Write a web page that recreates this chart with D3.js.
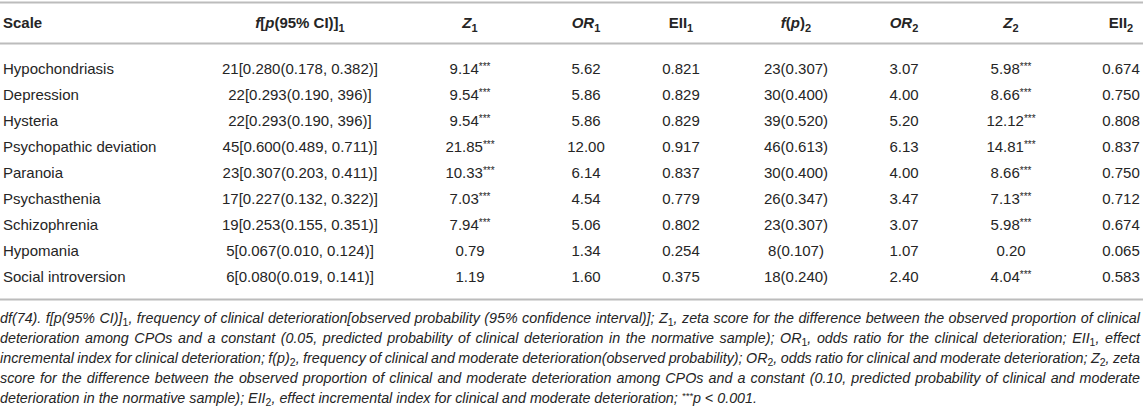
<!DOCTYPE html>
<html>
<head>
<meta charset="utf-8">
<script src="https://cdn.jsdelivr.net/npm/d3@7"></script>
<style>
  body { margin: 0; background: #fff; }
  svg { display: block; font-family: "Liberation Sans", Arial, sans-serif; }
</style>
</head>
<body>
<svg id="viz" width="1143" height="407"></svg>
<script>
// table values
const scales = ["Hypochondriasis", "Depression", "Hysteria", "Psychopathic deviation", "Paranoia",
    "Psychasthenia", "Schizophrenia", "Hypomania", "Social introversion"];
const f1 = [21, 22, 22, 45, 23, 17, 19, 5, 6];
const p1 = [0.280, 0.293, 0.293, 0.600, 0.307, 0.227, 0.253, 0.067, 0.080];
const ciLow = [0.178, 0.190, 0.190, 0.489, 0.203, 0.132, 0.155, 0.010, 0.019];
const ciHigh = [0.382, 396, 396, 0.711, 0.411, 0.322, 0.351, 0.124, 0.141]; // "396" as printed
const z1 = [9.14, 9.54, 9.54, 21.85, 10.33, 7.03, 7.94, 0.79, 1.19];
const or1 = [5.62, 5.86, 5.86, 12.00, 6.14, 4.54, 5.06, 1.34, 1.60];
const eii1 = [0.821, 0.829, 0.829, 0.917, 0.837, 0.779, 0.802, 0.254, 0.375];
const f2 = [23, 30, 39, 46, 30, 26, 23, 8, 18];
const p2 = [0.307, 0.400, 0.520, 0.613, 0.400, 0.347, 0.307, 0.107, 0.240];
const or2 = [3.07, 4.00, 5.20, 6.13, 4.00, 3.47, 3.07, 1.07, 2.40];
const z2 = [5.98, 8.66, 12.12, 14.81, 8.66, 7.13, 5.98, 0.20, 4.04];
const eii2 = [0.674, 0.750, 0.808, 0.837, 0.750, 0.712, 0.674, 0.065, 0.583];

// header pieces: [text, italic?, subscript?]
const headers = [
    [["Scale"]],
    [["f", 1], ["["], ["p", 1], ["(95% CI)]"], ["1", 0, 1]],
    [["Z", 1], ["1", 0, 1]],
    [["OR", 1], ["1", 0, 1]],
    [["EII"], ["1", 0, 1]],
    [["f", 1], ["("], ["p", 1], [")"], ["2", 0, 1]],
    [["OR", 1], ["2", 0, 1]],
    [["Z", 1], ["2", 0, 1]],
    [["EII"], ["2", 0, 1]]
];

// footnote lines, "_n" = subscript, "^" = small raised stars
const notes = [
    "df(74). f[p(95% CI)]_1, frequency of clinical deterioration[observed probability (95% confidence interval)]; Z_1, zeta score for the difference between the observed proportion of clinical",
    "deterioration among CPOs and a constant (0.05, predicted probability of clinical deterioration in the normative sample); OR_1, odds ratio for the clinical deterioration; EII_1, effect",
    "incremental index for clinical deterioration; f(p)_2, frequency of clinical and moderate deterioration(observed probability); OR_2, odds ratio for clinical and moderate deterioration; Z_2, zeta",
    "score for the difference between the observed proportion of clinical and moderate deterioration among CPOs and a constant (0.10, predicted probability of clinical and moderate",
    "deterioration in the normative sample); EII_2, effect incremental index for clinical and moderate deterioration; ^***p < 0.001."
];

const W = 1143;
const textColor = "#252525";
const ruleColor = "#bcbcbc";
const colX = [3, 300, 470, 586, 681, 796, 904, 1011, 1121];

const f3 = d3.format(".3f"), f2d = d3.format(".2f");
const sig = z => z > 3.29; // p < 0.001

const rows = scales.map((s, i) => [
    [s],
    [`${f1[i]}[${f3(p1[i])}(${f3(ciLow[i])}, ${ciHigh[i] >= 1 ? ciHigh[i] : f3(ciHigh[i])})]`],
    [f2d(z1[i]), sig(z1[i])],
    [f2d(or1[i])],
    [f3(eii1[i])],
    [`${f2[i]}(${f3(p2[i])})`],
    [f2d(or2[i])],
    [f2d(z2[i]), sig(z2[i])],
    [f3(eii2[i])]
]);

const svg = d3.select("#viz");
const y = d3.scalePoint().domain(scales).range([69, 277]);

// rules
svg.selectAll("line.rule")
    .data([2.5, 43.5, 299.5])
    .join("line")
    .attr("class", "rule")
    .attr("x1", 0).attr("x2", W)
    .attr("y1", d => d).attr("y2", d => d)
    .attr("stroke", ruleColor)
    .attr("stroke-width", 2);

// header
const head = svg.append("g").attr("font-weight", "bold").attr("font-size", 15).attr("fill", textColor);
headers.forEach((parts, c) => {
    const t = head.append("text")
        .attr("x", colX[c]).attr("y", 28)
        .attr("text-anchor", c === 0 ? "start" : "middle");
    let down = false;
    parts.forEach(([txt, it, sub]) => {
        const ts = t.append("tspan").text(txt);
        if (it) ts.attr("font-style", "italic");
        if (sub) { ts.attr("font-size", 11).attr("dy", 4); down = true; }
        else if (down) { ts.attr("dy", -4); down = false; }
    });
});

// body
const body = svg.append("g").attr("font-size", 15).attr("fill", textColor);
rows.forEach((cells, r) => {
    cells.forEach(([txt, star], c) => {
        const t = body.append("text")
            .attr("x", colX[c]).attr("y", y(scales[r]) + 5)
            .attr("text-anchor", c === 0 ? "start" : "middle");
        t.append("tspan").text(txt);
        if (star) t.append("tspan").text("***").attr("font-size", 10).attr("dy", -4);
    });
});

// footnote, justified word by word
const foot = svg.append("g").attr("font-size", 14.3).attr("font-style", "italic").attr("fill", textColor);
notes.forEach((line, li) => {
    const yy = 323 + li * 20;
    const words = line.split(" ").map(w => {
        const g = foot.append("text").attr("y", yy);
        const m = w.match(/^(.*?)_(\d)(.*)$/);
        if (m) {
            g.append("tspan").text(m[1]);
            g.append("tspan").text(m[2]).attr("font-size", 10.5).attr("font-style", "normal").attr("dy", 3);
            g.append("tspan").text(m[3]).attr("dy", -3);
        } else if (w.startsWith("^")) {
            g.append("tspan").text("***").attr("font-size", 9.5).attr("dy", -4);
            g.append("tspan").text(w.slice(4)).attr("dy", 4);
        } else {
            g.text(w);
        }
        return { g, w: g.node().getComputedTextLength() };
    });
    const space = 4;
    const total = d3.sum(words, d => d.w);
    const gap = li === notes.length - 1 ? space : Math.max(2, (W - 3 - total) / (words.length - 1));
    let x = 0;
    words.forEach(d => { d.g.attr("x", x); x += d.w + gap; });
});
</script>
</body>
</html>
